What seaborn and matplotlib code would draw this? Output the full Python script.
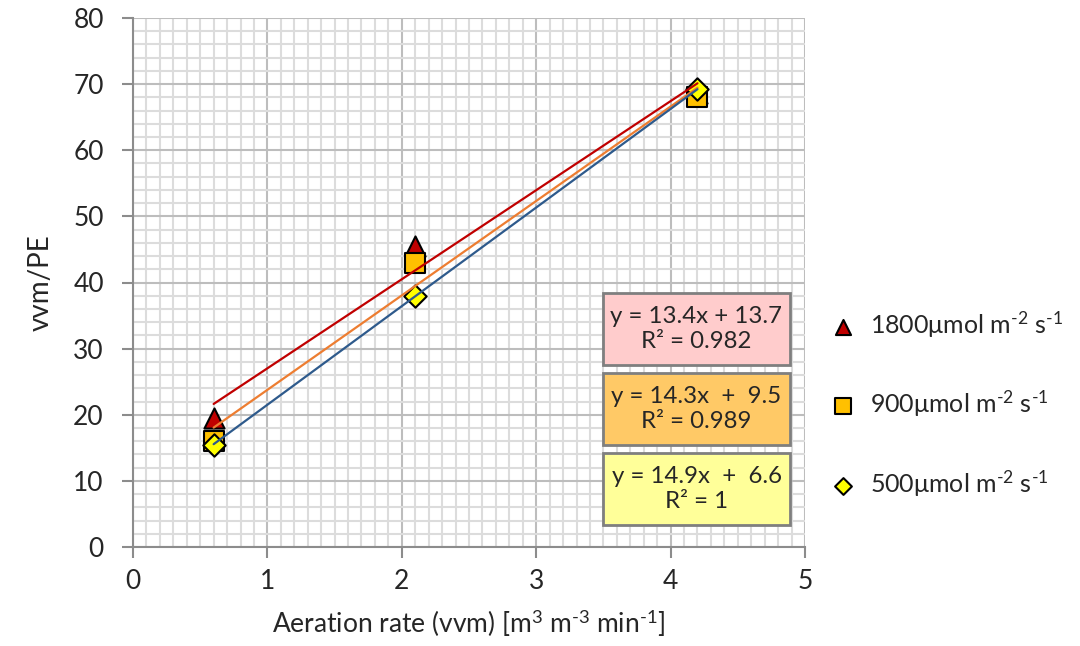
import numpy as np
import pandas as pd
import matplotlib
matplotlib.use("Agg")
import matplotlib.pyplot as plt
from matplotlib.patches import Rectangle
from matplotlib.ticker import MultipleLocator
import seaborn as sns

# ---- data ----
aeration = [0.6, 2.1, 4.2]
y_1800 = [19.5, 45.5, 68.6]
y_900 = [16.0, 43.0, 68.0]
y_500 = [15.5, 38.0, 69.2]
series_labels = ["1800", "900", "500"]
equations = ["y = 13.4x + 13.7\nR² = 0.982",
             "y = 14.3x  +  9.5\nR² = 0.989",
             "y = 14.9x  +  6.6\nR² = 1"]

sns.set_theme(style="white")
FONT = "Lato"
plt.rcParams["font.family"] = [FONT, "DejaVu Sans"]
plt.rcParams["mathtext.fontset"] = "custom"
plt.rcParams["mathtext.rm"] = FONT
plt.rcParams["mathtext.it"] = FONT + ":italic"
plt.rcParams["mathtext.bf"] = FONT + ":bold"

fig = plt.figure(figsize=(10.8, 6.46), dpi=100)
ax = fig.add_axes([133/1080, 1-547/646, 672/1080, 529/646])

df = pd.DataFrame({
    "x": aeration * 3,
    "y": y_1800 + y_900 + y_500,
    "s": [series_labels[0]]*3 + [series_labels[1]]*3 + [series_labels[2]]*3,
})

line_colors = {"1800": "#C00000", "900": "#ED7D31", "500": "#2E5A8C"}
fill_colors = {"1800": "#C00000", "900": "#FFC000", "500": "#FFFF00"}
markers = {"1800": "^", "900": "s", "500": "D"}
msizes = {"1800": 210, "900": 220, "500": 130}

handles = []
for i, s in enumerate(series_labels):
    sub = df[df.s == s]
    sc = ax.scatter(sub.x, sub.y, marker=markers[s], s=msizes[s],
                    c=fill_colors[s], edgecolors="black", linewidths=1.5,
                    zorder=3 + i, clip_on=False)
    handles.append(sc)
for i, s in enumerate(series_labels):
    sub = df[df.s == s]
    sns.regplot(data=sub, x="x", y="y", scatter=False, ci=None, ax=ax,
                line_kws=dict(color=line_colors[s], lw=1.6, zorder=7 + i))

ax.set_xlim(0, 5)
ax.set_ylim(0, 80)
ax.xaxis.set_major_locator(MultipleLocator(1))
ax.xaxis.set_minor_locator(MultipleLocator(0.1))
ax.yaxis.set_major_locator(MultipleLocator(10))
ax.yaxis.set_minor_locator(MultipleLocator(2))
ax.grid(which="minor", color="#DCDCDC", lw=1.5, zorder=0)
ax.grid(which="major", color="#BDBDBD", lw=1.5, zorder=0)
ax.set_axisbelow(True)
for sp in ["top", "right"]:
    ax.spines[sp].set_visible(False)
for sp in ["left", "bottom"]:
    ax.spines[sp].set_color("#8C8C8C")
    ax.spines[sp].set_linewidth(1.5)
ax.tick_params(axis="both", which="major", direction="out", length=8,
               width=1.5, color="#8C8C8C", labelsize=19)
ax.tick_params(axis="x", which="major", pad=8)
ax.tick_params(axis="y", which="major", pad=13)
ax.tick_params(axis="both", which="minor", length=0)
ax.tick_params(axis="x", bottom=True)
ax.tick_params(axis="y", left=True)

ax.set_xlabel(r"Aeration rate (vvm) [m$^{3}$ m$^{\text{-}3}$ min$^{\text{-}1}$]",
              fontsize=19, labelpad=10)
ax.set_ylabel("vvm/PE", fontsize=20, labelpad=14)

# equation boxes
box_colors = ["#FFCCCC", "#FFC966", "#FFFF99"]
tops = [293, 373, 453]
for eq, col, top in zip(equations, box_colors, tops):
    x0 = (603 - 133) / 672
    w = 187 / 672
    h = 72 / 529
    y0 = (547 - (top + 72)) / 529
    ax.add_patch(Rectangle((x0, y0), w, h, transform=ax.transAxes,
                           facecolor=col, edgecolor="#7F7F7F", lw=2, zorder=10))
    ax.text(x0 + w/2, y0 + h/2, eq, transform=ax.transAxes, ha="center",
            va="center", fontsize=17.3, zorder=11, linespacing=1.25)

leg_labels = [f"{s}μmol m$^{{\\text{{-}}2}}$ s$^{{\\text{{-}}1}}$" for s in series_labels]
leg = ax.legend(handles, leg_labels, loc="center left",
                bbox_to_anchor=(1.02, 0.27), frameon=False, fontsize=18,
                labelspacing=1.95, handletextpad=0.45, handlelength=1.2,
                borderaxespad=0, markerscale=0.75)

fig.savefig("out.png", dpi=100)
